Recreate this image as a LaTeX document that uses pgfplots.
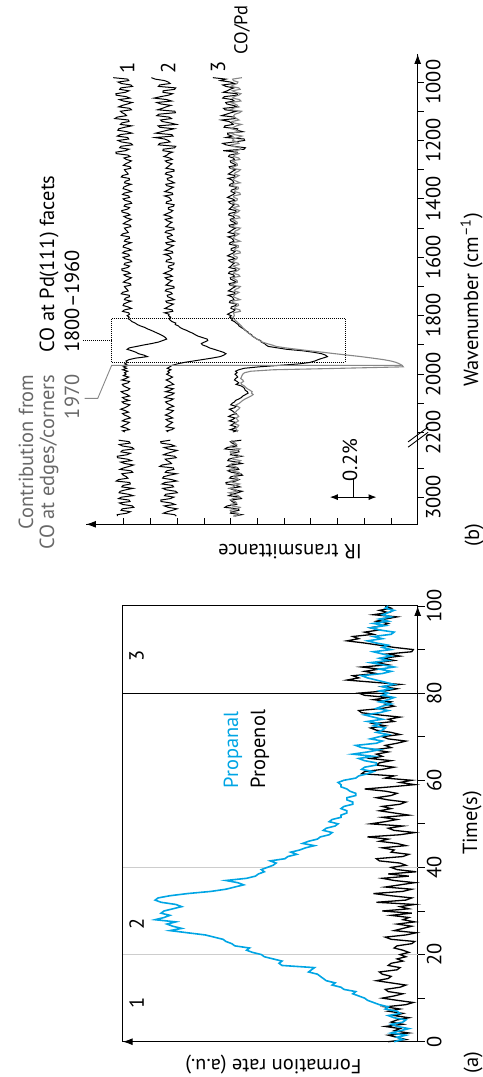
\documentclass[border=0pt]{standalone}
\usepackage{fontspec}
\setmainfont{PT Sans}
\usepackage{pgfplots}
\pgfplotsset{compat=1.18}
\usepackage{pgfplotstable}
\usetikzlibrary{arrows.meta}
\definecolor{propanal}{RGB}{0,165,228}
\definecolor{spgray}{RGB}{135,135,135}
\definecolor{vgray}{RGB}{205,205,205}
\definecolor{txtgray}{RGB}{105,105,105}

\pgfplotstableread[row sep=\\]{
t a b\\
0 0.08 0.10\\ 0.5 0.05 0.04\\ 1 0.07 0.07\\ 1.5 0.04 0.10\\ 2 0.09 0.03\\ 2.5 0.06 0.08\\ 3 0.03 0.06\\ 3.5 0.07 0.11\\ 4 0.09 0.05\\ 4.5 0.05 0.09\\
5 0.04 0.07\\ 5.5 0.08 0.03\\ 6 0.10 0.08\\ 6.5 0.06 0.05\\ 7 0.07 0.10\\ 7.5 0.11 0.06\\ 8 0.10 0.11\\ 8.5 0.13 0.04\\ 9 0.15 0.015\\ 9.5 0.17 0.07\\
10 0.18 0.12\\ 10.5 0.20 0.08\\ 11 0.22 0.05\\ 11.5 0.21 0.10\\ 12 0.25 0.11\\ 12.5 0.26 0.06\\ 13 0.29 0.04\\ 13.5 0.28 0.09\\ 14 0.31 0.14\\ 14.5 0.32 0.10\\
15 0.33 0.09\\ 15.5 0.34 0.12\\ 16 0.37 0.13\\ 16.5 0.36 0.07\\ 17 0.35 0.06\\ 17.5 0.46 0.10\\ 18 0.47 0.09\\ 18.5 0.46 0.05\\ 19 0.49 0.07\\ 19.5 0.52 0.04\\
20 0.53 0.06\\ 20.5 0.56 0.03\\ 21 0.58 0.05\\ 21.5 0.57 0.08\\ 22 0.62 0.07\\ 22.5 0.63 0.02\\ 23 0.65 0.01\\ 23.5 0.66 0.09\\ 24 0.69 0.11\\ 24.5 0.72 0.04\\
25 0.78 0.005\\ 25.5 0.84 0.08\\ 26 0.80 0.05\\ 26.5 0.83 0.02\\ 27 0.85 0.07\\ 27.5 0.82 0.01\\ 28 0.89 0.05\\ 28.5 0.86 0.03\\ 29 0.84 0.09\\ 29.5 0.87 0.02\\
30 0.86 0.12\\ 30.5 0.83 0.03\\ 31 0.80 0.06\\ 31.5 0.82 0.01\\ 32 0.87 0.14\\ 32.5 0.89 0.04\\ 33 0.88 0.02\\ 33.5 0.84 0.09\\ 34 0.78 0.15\\ 34.5 0.70 0.05\\
35 0.65 0.02\\ 35.5 0.62 0.11\\ 36 0.59 0.06\\ 36.5 0.61 0.01\\ 37 0.65 0.08\\ 37.5 0.58 0.12\\ 38 0.55 0.03\\ 38.5 0.54 0.10\\ 39 0.52 0.005\\ 39.5 0.53 0.07\\
40 0.51 0.09\\ 40.5 0.49 0.04\\ 41 0.48 0.06\\ 41.5 0.50 0.13\\ 42 0.45 0.14\\ 42.5 0.44 0.05\\ 43 0.41 0.03\\ 43.5 0.43 0.09\\ 44 0.40 0.08\\ 44.5 0.38 0.12\\
45 0.35 0.04\\ 45.5 0.39 0.07\\ 46 0.37 0.13\\ 46.5 0.34 0.10\\ 47 0.33 0.17\\ 47.5 0.30 0.06\\ 48 0.29 0.01\\ 48.5 0.32 0.08\\ 49 0.31 0.10\\ 49.5 0.28 0.05\\
50 0.27 0.16\\ 50.5 0.30 0.11\\ 51 0.29 0.07\\ 51.5 0.26 0.12\\ 52 0.26 0.03\\ 52.5 0.24 0.08\\ 53 0.24 0.13\\ 53.5 0.26 0.09\\ 54 0.25 0.12\\ 54.5 0.22 0.06\\
55 0.22 0.04\\ 55.5 0.24 0.10\\ 56 0.24 0.14\\ 56.5 0.21 0.09\\ 57 0.21 0.07\\ 57.5 0.23 0.11\\ 58 0.24 0.18\\ 58.5 0.26 0.09\\ 59 0.26 0.01\\ 59.5 0.27 0.06\\
60 0.25 0.02\\ 60.5 0.21 0.11\\ 61 0.20 0.08\\ 61.5 0.17 0.19\\ 62 0.15 0.18\\ 62.5 0.19 0.12\\ 63 0.18 0.08\\ 63.5 0.14 0.14\\ 64 0.14 0.13\\ 64.5 0.18 0.09\\
65 0.20 0.16\\ 65.5 0.15 0.12\\ 66 0.22 0.14\\ 66.5 0.17 0.10\\ 67 0.13 0.15\\ 67.5 0.19 0.09\\ 68 0.21 0.11\\ 68.5 0.14 0.07\\ 69 0.12 0.04\\ 69.5 0.16 0.10\\
70 0.13 0.12\\ 70.5 0.10 0.06\\ 71 0.14 0.09\\ 71.5 0.12 0.14\\ 72 0.11 0.16\\ 72.5 0.15 0.11\\ 73 0.13 0.15\\ 73.5 0.17 0.08\\ 74 0.12 0.10\\ 74.5 0.15 0.06\\
75 0.18 0.13\\ 75.5 0.13 0.19\\ 76 0.10 0.20\\ 76.5 0.14 0.12\\ 77 0.12 0.08\\ 77.5 0.09 0.11\\ 78 0.13 0.09\\ 78.5 0.10 0.15\\ 79 0.08 0.10\\ 79.5 0.12 0.18\\
80 0.10 0.20\\ 80.5 0.13 0.11\\ 81 0.09 0.07\\ 81.5 0.12 0.12\\ 82 0.08 0.06\\ 82.5 0.11 0.15\\ 83 0.14 0.24\\ 83.5 0.17 0.20\\ 84 0.19 0.22\\ 84.5 0.12 0.14\\
85 0.09 0.18\\ 85.5 0.13 0.13\\ 86 0.08 0.19\\ 86.5 0.12 0.10\\ 87 0.16 0.14\\ 87.5 0.10 0.08\\ 88 0.13 0.12\\ 88.5 0.09 0.06\\ 89 0.12 0.10\\ 89.5 0.15 0.02\\
90 0.09 0.015\\ 90.5 0.12 0.08\\ 91 0.10 0.13\\ 91.5 0.14 0.18\\ 92 0.17 0.24\\ 92.5 0.12 0.20\\ 93 0.15 0.22\\ 93.5 0.09 0.15\\ 94 0.08 0.18\\ 94.5 0.13 0.13\\
95 0.16 0.16\\ 95.5 0.11 0.12\\ 96 0.15 0.10\\ 96.5 0.10 0.14\\ 97 0.13 0.11\\ 97.5 0.09 0.07\\ 98 0.12 0.15\\ 98.5 0.10 0.10\\ 99 0.08 0.13\\ 99.5 0.11 0.09\\
100 0.10 0.11\\
}\tablea

\pgfplotstableread[row sep=\\]{
w s1 s2 s3 s4\\
985 11.40 9.97 7.67 6.58\\ 990 10.86 9.83 7.18 6.93\\ 995 10.82 9.48 7.39 6.90\\ 1000 11.22 9.34 7.01 6.73\\ 1005 11.10 9.27 6.86 6.76\\
1010 10.74 9.66 7.30 6.90\\ 1015 10.68 9.71 7.18 6.99\\ 1020 11.11 9.06 6.88 6.70\\ 1025 11.16 9.10 7.03 6.65\\ 1030 10.81 9.53 7.13 6.94\\
1035 10.94 9.54 7.28 6.82\\ 1040 11.30 9.18 6.76 6.62\\ 1045 11.29 9.33 6.75 6.70\\ 1050 10.92 9.62 7.24 6.87\\ 1055 10.77 9.87 7.30 6.94\\
1060 11.17 9.40 6.94 6.67\\ 1065 11.02 9.21 6.87 6.62\\ 1070 10.69 9.77 7.19 7.00\\ 1075 10.86 9.62 7.15 6.85\\ 1080 11.06 9.24 6.91 6.74\\
1085 11.20 9.42 6.73 6.74\\ 1090 10.78 9.56 7.27 6.91\\ 1095 10.72 9.74 7.21 7.02\\ 1100 11.13 9.09 6.79 6.59\\ 1105 11.07 9.07 6.99 6.67\\
1110 10.96 9.69 7.16 6.84\\ 1115 10.90 9.77 7.34 6.89\\ 1120 11.25 9.31 6.86 6.87\\ 1125 11.34 9.22 6.82 6.78\\ 1130 10.83 9.63 7.35 6.69\\
1135 10.81 9.57 7.07 6.95\\ 1140 11.08 9.27 6.97 6.89\\ 1145 11.13 9.04 6.91 6.60\\ 1150 10.71 9.72 7.22 6.78\\ 1155 10.98 9.65 7.25 6.90\\
1160 11.19 9.12 6.74 6.97\\ 1165 11.23 9.37 6.77 6.76\\ 1170 10.89 9.59 6.55 6.69\\ 1175 10.70 9.81 7.12 6.99\\ 1180 11.14 9.21 7.11 6.86\\
1185 11.25 9.16 6.95 6.58\\ 1190 10.86 9.83 7.18 6.73\\ 1195 10.82 9.48 6.50 6.90\\ 1200 11.22 9.34 6.48 6.93\\ 1205 11.10 9.27 6.86 6.76\\
1210 10.74 9.66 7.30 6.70\\ 1215 10.68 9.71 7.18 6.99\\ 1220 11.11 9.06 6.88 6.94\\ 1225 11.16 9.10 6.45 6.65\\ 1230 10.81 9.53 6.50 6.62\\
1235 10.94 9.54 7.28 6.82\\ 1240 11.30 9.18 6.76 6.87\\ 1245 11.29 9.33 6.75 6.70\\ 1250 10.85 9.38 7.05 6.85\\ 1255 10.77 9.50 7.08 6.90\\
1260 11.00 9.28 6.90 6.70\\ 1265 10.91 9.19 6.86 6.66\\ 1270 10.72 9.45 7.02 6.95\\ 1275 10.82 9.38 7.00 6.84\\ 1280 10.94 9.20 6.88 6.76\\
1285 11.02 9.29 6.79 6.75\\ 1290 10.77 9.35 7.06 6.88\\ 1295 10.74 9.43 7.03 6.97\\ 1300 10.98 9.13 6.82 6.64\\ 1305 10.94 9.12 6.92 6.70\\
1310 10.88 9.41 7.00 6.83\\ 1315 10.84 9.45 7.09 6.87\\ 1320 11.05 9.24 6.85 6.69\\ 1325 11.10 9.19 6.84 6.79\\ 1330 10.80 9.38 7.10 6.87\\
1335 10.79 9.36 6.96 6.91\\ 1340 10.95 9.22 6.91 6.78\\ 1345 10.98 9.11 6.88 6.65\\ 1350 10.73 9.43 7.03 6.93\\ 1355 10.89 9.39 7.05 6.93\\
1360 11.01 9.15 6.79 6.72\\ 1365 11.03 9.26 6.81 6.71\\ 1370 10.84 9.36 6.98 6.84\\ 1375 10.72 9.47 6.99 6.85\\ 1380 10.98 9.19 6.84 6.66\\
1385 11.05 9.17 6.90 6.64\\ 1390 10.82 9.48 7.02 6.90\\ 1395 10.79 9.31 7.12 6.88\\ 1400 11.03 9.25 6.93 6.75\\ 1405 10.96 9.22 6.85 6.77\\
1410 10.75 9.40 7.08 6.87\\ 1415 10.71 9.42 7.02 6.94\\ 1420 10.96 9.12 6.87 6.73\\ 1425 10.99 9.14 6.94 6.69\\ 1430 10.79 9.34 6.99 6.91\\
1435 10.86 9.34 7.06 6.81\\ 1440 11.08 9.17 6.81 6.67\\ 1445 11.07 9.24 6.80 6.73\\ 1450 10.85 9.38 7.05 6.85\\ 1455 10.77 9.50 7.08 6.90\\
1460 11.00 9.28 6.90 6.70\\ 1465 10.91 9.19 6.86 6.66\\ 1470 10.72 9.45 7.02 6.95\\ 1475 10.82 9.38 7.00 6.84\\ 1480 10.94 9.20 6.88 6.76\\
1485 11.02 9.29 6.79 6.75\\ 1490 10.77 9.35 7.06 6.88\\ 1495 10.74 9.43 7.03 6.97\\ 1500 10.98 9.13 6.82 6.64\\ 1505 10.94 9.12 6.92 6.70\\
1510 10.88 9.41 7.00 6.83\\ 1515 10.84 9.45 7.09 6.87\\ 1520 11.05 9.24 6.85 6.69\\ 1525 11.10 9.19 6.84 6.79\\ 1530 10.80 9.38 7.10 6.87\\
1535 10.79 9.36 6.96 6.91\\ 1540 10.95 9.22 6.91 6.78\\ 1545 10.98 9.11 6.88 6.65\\ 1550 10.73 9.43 7.03 6.93\\ 1555 10.89 9.39 7.05 6.93\\
1560 11.01 9.15 6.79 6.72\\ 1565 11.03 9.26 6.81 6.71\\ 1570 10.84 9.36 6.98 6.84\\ 1575 10.72 9.47 6.99 6.85\\ 1580 10.98 9.19 6.84 6.66\\
1585 11.05 9.17 6.90 6.64\\ 1590 10.82 9.48 7.02 6.90\\ 1595 10.79 9.31 7.12 6.88\\ 1600 11.03 9.25 6.93 6.75\\ 1605 10.96 9.22 6.85 6.77\\
1610 10.75 9.40 7.08 6.87\\ 1615 10.71 9.42 7.02 6.94\\ 1620 10.96 9.12 6.87 6.73\\ 1625 10.99 9.14 6.94 6.69\\ 1630 10.79 9.34 6.99 6.91\\
1635 10.86 9.34 7.06 6.81\\ 1640 11.08 9.17 6.81 6.67\\ 1645 11.07 9.24 6.80 6.73\\ 1650 10.85 9.38 7.05 6.85\\ 1655 10.77 9.50 7.08 6.90\\
1660 11.00 9.28 6.90 6.70\\ 1665 10.91 9.19 6.86 6.66\\ 1670 10.72 9.45 7.02 6.95\\ 1675 10.82 9.38 7.00 6.84\\ 1680 10.94 9.20 6.88 6.76\\
1685 11.02 9.29 6.79 6.75\\ 1690 10.77 9.35 7.06 6.88\\ 1695 10.74 9.43 7.03 6.97\\ 1700 10.98 9.13 6.82 6.64\\ 1705 10.94 9.12 6.92 6.70\\
1710 10.88 9.41 7.00 6.83\\ 1715 10.84 9.45 7.09 6.87\\ 1720 11.05 9.24 6.85 6.69\\ 1725 11.10 9.19 6.84 6.79\\ 1730 10.80 9.38 7.10 6.87\\
1735 10.79 9.36 6.96 6.91\\ 1740 10.95 9.22 6.91 6.78\\ 1745 10.98 9.11 6.88 6.65\\ 1750 10.73 9.43 7.03 6.93\\ 1755 10.89 9.39 7.05 6.93\\
1760 11.01 9.15 6.79 6.72\\ 1765 11.03 9.26 6.81 6.71\\ 1770 10.84 9.36 6.98 6.84\\ 1775 10.72 9.47 6.99 6.85\\ 1780 10.98 9.19 6.84 6.66\\
1785 11.05 9.17 6.90 6.64\\ 1790 10.82 9.48 7.02 6.90\\ 1795 10.79 9.31 7.12 6.88\\
1800 10.88 9.33 6.98 6.86\\ 1805 10.80 9.25 7.04 6.92\\ 1810 10.84 9.31 6.93 6.88\\ 1815 10.76 9.27 6.97 6.84\\ 1820 10.70 9.20 6.86 6.78\\
1825 10.58 9.06 6.80 6.72\\ 1830 10.50 9.08 6.72 6.66\\ 1835 10.38 8.96 6.69 6.60\\ 1840 10.22 8.90 6.61 6.56\\ 1845 10.12 8.80 6.52 6.50\\
1850 9.98 8.66 6.46 6.44\\ 1855 9.86 8.55 6.36 6.40\\ 1860 9.74 8.42 6.33 6.32\\ 1865 9.62 8.33 6.22 6.25\\ 1870 9.52 8.22 6.19 6.18\\
1875 9.44 8.05 6.10 6.10\\ 1880 9.40 7.88 6.02 6.02\\ 1885 9.55 7.86 5.88 5.92\\ 1890 9.70 7.98 5.86 5.82\\ 1895 9.95 8.10 5.74 5.66\\
1900 10.25 8.06 5.68 5.46\\ 1905 10.52 7.90 5.60 5.30\\ 1910 10.80 7.80 5.25 4.95\\ 1915 10.88 7.62 4.90 4.50\\ 1920 10.70 7.45 4.30 4.05\\
1925 10.55 7.28 3.90 3.55\\ 1930 10.45 7.18 3.60 3.10\\ 1935 10.25 7.26 3.45 2.60\\ 1940 10.12 7.40 3.38 2.12\\ 1945 10.55 7.70 3.55 1.70\\
1950 10.80 8.05 3.72 1.30\\ 1955 10.92 8.40 3.85 1.00\\ 1960 10.88 8.75 4.05 0.80\\ 1965 10.97 9.00 4.45 0.68\\ 1970 10.84 9.20 5.20 0.58\\
1975 11.02 9.28 5.95 0.54\\ 1980 10.90 9.38 6.50 2.90\\ 1985 11.05 9.24 6.70 5.40\\ 1990 10.86 9.36 6.82 6.25\\ 1995 10.98 9.30 6.76 6.48\\
2000 10.92 9.40 6.84 6.55\\ 2005 11.02 9.30 6.78 6.58\\ 2010 10.82 9.18 6.74 6.60\\ 2015 10.93 9.28 6.82 6.63\\ 2020 11.08 9.42 6.86 6.55\\
2025 10.79 9.30 6.76 6.52\\ 2030 10.85 9.22 6.70 6.62\\ 2035 11.06 9.14 6.80 6.60\\ 2040 11.02 9.36 6.62 6.50\\ 2045 10.91 9.45 6.52 6.44\\
2050 10.78 9.15 6.48 6.38\\ 2055 10.85 9.26 6.46 6.28\\ 2060 11.10 9.44 6.38 6.20\\ 2065 11.02 9.12 6.35 6.22\\ 2070 10.88 9.20 6.45 6.16\\
2075 10.79 9.38 6.55 6.24\\ 2080 11.05 9.47 6.60 6.35\\ 2085 10.98 9.15 6.70 6.46\\ 2090 10.80 9.25 6.82 6.55\\ 2095 11.07 9.44 6.86 6.62\\
2100 11.00 9.38 6.95 6.68\\ 2105 10.78 9.26 7.00 6.80\\ 2110 10.86 9.14 6.80 6.75\\ 2115 10.97 9.31 6.86 6.66\\ 2120 11.12 9.40 7.05 6.70\\
2125 10.95 9.15 6.95 6.78\\ 2130 10.83 9.22 6.88 6.82\\ 2135 11.05 9.33 6.80 6.86\\ 2140 10.98 9.45 6.98 6.74\\ 2145 10.84 9.28 7.08 6.70\\
2150 10.76 9.17 6.84 6.80\\ 2155 10.96 9.42 6.92 6.76\\ 2160 11.06 9.35 7.06 6.71\\ 2165 10.80 9.18 6.82 6.80\\ 2170 10.88 9.26 6.90 6.84\\
2175 11.00 9.36 7.00 6.70\\ 2180 11.10 9.43 6.81 6.73\\ 2185 10.90 9.12 6.86 6.82\\ 2190 10.80 9.20 7.02 6.79\\ 2194 11.05 9.40 6.78 6.74\\
2198 10.96 9.34 6.92 6.76\\
2212 nan nan nan nan\\
2226 11.20 9.26 6.60 6.94\\ 2231 10.81 9.62 7.01 6.98\\ 2236 10.77 9.61 6.95 6.83\\ 2241 11.17 9.24 6.84 6.78\\ 2246 11.05 9.09 6.78 7.00\\
2251 10.69 9.49 7.13 6.95\\ 2256 10.63 9.34 7.22 6.65\\ 2261 11.06 9.01 6.71 6.75\\ 2266 11.11 9.18 6.69 7.02\\ 2271 10.76 9.38 6.96 6.99\\
2276 10.89 9.52 7.01 6.73\\ 2281 11.25 9.10 6.59 6.67\\ 2286 11.24 9.04 6.86 6.91\\ 2291 10.87 9.45 7.07 6.92\\ 2296 10.72 9.39 7.11 6.63\\
2301 11.12 9.28 6.77 6.72\\ 2306 10.97 9.22 6.58 6.95\\ 2311 10.64 9.57 7.02 7.05\\ 2316 10.81 9.66 7.13 6.81\\ 2321 11.01 9.15 6.74 6.79\\
2326 11.15 9.13 6.70 7.04\\ 2331 10.73 9.40 7.10 6.96\\ 2336 10.67 9.45 6.98 6.70\\ 2341 11.08 9.03 6.62 6.64\\ 2346 11.02 9.30 6.56 6.87\\
2351 10.91 9.51 6.99 6.89\\ 2356 10.85 9.55 7.04 6.75\\ 2361 11.20 9.21 6.69 6.71\\ 2366 11.29 9.02 6.82 6.99\\ 2371 10.78 9.46 7.18 6.94\\
2376 10.76 9.57 7.17 6.67\\ 2381 11.03 9.18 6.80 6.83\\ 2386 11.08 9.14 6.65 6.90\\ 2391 10.66 9.54 7.05 7.02\\ 2396 10.93 9.42 6.90 6.79\\
2401 11.14 9.06 6.57 6.74\\ 2406 11.18 9.00 6.74 7.07\\ 2411 10.84 9.43 6.94 6.91\\ 2416 10.65 9.48 7.08 6.72\\ 2421 11.09 9.13 6.66 6.66\\
2426 11.20 9.26 6.60 6.94\\ 2431 10.81 9.62 7.01 6.98\\ 2436 10.77 9.61 6.95 6.83\\ 2441 11.17 9.24 6.84 6.78\\ 2446 11.05 9.09 6.78 7.00\\
2451 10.69 9.49 7.13 6.95\\ 2456 10.63 9.34 7.22 6.65\\ 2461 11.06 9.01 6.71 6.75\\ 2466 11.11 9.18 6.69 7.02\\ 2471 10.76 9.38 6.96 6.99\\
2476 10.89 9.52 7.01 6.73\\ 2481 11.25 9.10 6.59 6.67\\ 2486 11.24 9.04 6.86 6.91\\
}\tableb

\begin{document}
\begin{tikzpicture}[font=\fontsize{20.5}{24}\selectfont]
\useasboundingbox (-483bp,0bp) rectangle (0bp,1077bp);
\begin{scope}[rotate=90, transform shape]
% ---------------- panel (a)
\begin{axis}[
  at={(35.3bp,65.3bp)}, anchor=south west,
  width=435.7bp, height=295bp, scale only axis,
  xmin=0, xmax=100, ymin=0, ymax=1,
  axis x line*=bottom, axis y line*=left,
  axis line style={line width=1bp},
  xtick={0,20,40,60,80,100}, minor xtick={10,30,50,70,90},
  ytick=\empty,
  tick align=outside, major tick length=7bp, minor tick length=7bp,
  every tick/.style={line width=0.9bp, black},
  minor tick style={line width=0.9bp, black},
  tick label style={font=\fontsize{20.5}{24}\selectfont},
  xticklabel style={yshift=1.5bp},
  /pgf/number format/assume math mode=true,
  clip=false,
]
\draw[vgray, line width=1.3bp] (axis cs:20,0) -- (axis cs:20,1);
\draw[vgray, line width=1.3bp] (axis cs:40,0) -- (axis cs:40,1);
\draw[black, line width=1bp] (axis cs:80,0) -- (axis cs:80,1);
\draw[line width=1bp] (axis cs:0,1) -- (axis cs:100,1) -- (axis cs:100,0);
\draw[line width=1bp, -{Latex[length=10bp,width=7bp]}] (axis cs:0,0.9) -- (axis cs:0,1);
\draw[line width=1bp, -{Latex[length=10bp,width=7bp]}] (axis cs:96,0) -- (axis cs:100,0);
\addplot[black, line width=1.3bp] table[x=t, y=b] {\tablea};
\addplot[propanal, line width=1.6bp] table[x=t, y=a] {\tablea};
\node at (axis cs:9,0.953) {1};
\node at (axis cs:27,0.953) {2};
\node at (axis cs:88.6,0.953) {3};
\node[anchor=west, text=propanal] at (axis cs:57.4,0.626) {Propanal};
\node[anchor=west] at (axis cs:57.4,0.535) {Propenol};
\end{axis}
% ---------------- panel (b)
\begin{axis}[
  at={(552.7bp,65.3bp)}, anchor=south west,
  width=470.3bp, height=331.7bp, scale only axis,
  xmin=904, xmax=2514, x dir=reverse, ymin=0, ymax=12.42,
  axis x line*=bottom, axis y line*=left,
  axis line style={line width=1bp},
  xtick={1000,1100,1200,1300,1400,1500,1600,1700,1800,1900,2000,2100,2200,2322,2421},
  xticklabels={1000,,1200,,1400,,1600,,1800,,2000,,2200,,3000},
  ytick={1,2,3,4,5,6,7,8,9,10,11}, yticklabels={},
  xtick align=outside, ytick align=inside,
  major tick length=6bp,
  every tick/.style={line width=0.9bp, black},
  tick label style={font=\fontsize{20.5}{24}\selectfont},
  xticklabel style={yshift=1.5bp},
  unbounded coords=jump,
  clip=false,
]
\addplot[black, line width=1bp] table[x=w, y=s1] {\tableb};
\addplot[black, line width=1bp] table[x=w, y=s2] {\tableb};
\addplot[black, line width=1bp] table[x=w, y=s3] {\tableb};
\addplot[spgray, line width=1.1bp] table[x=w, y=s4] {\tableb};
\draw[spgray, line width=0.9bp] (axis cs:1970,0.6) -- (axis cs:1970,11.46) -- (axis cs:2083,11.98) -- (axis cs:2083,12.47);
\draw[densely dotted, line width=1bp] (axis cs:1810,2.72) rectangle (axis cs:1960,11.46);
\draw[densely dotted, line width=1bp] (axis cs:1886,11.46) -- (axis cs:1886,12.52);
\draw[line width=1bp, -{Latex[length=10bp,width=7bp]}] (axis cs:950,0) -- (axis cs:904,0);
\draw[line width=1bp, -{Latex[length=10bp,width=7bp]}] (axis cs:2514,11.5) -- (axis cs:2514,12.42);
\draw[line width=0.9bp] (axis cs:2250,0.36) -- (axis cs:2199,-0.39);
\draw[line width=0.9bp] (axis cs:2232,0.36) -- (axis cs:2181,-0.39);
\draw[line width=1bp, {Latex[length=8bp,width=6bp]}-{Latex[length=8bp,width=6bp]}] (axis cs:2421,1.54) -- (axis cs:2421,3.29);
\draw[line width=1bp] (axis cs:2421,2.4) -- (axis cs:2355,2.4);
\end{axis}
% ---------------- texts
\node[rotate=90] at (12bp,209.6bp) {Formation rate (a.u.)};
\node[anchor=base] at (254bp,6bp) {Time(s)};
\node[anchor=base west] at (0bp,5bp) {(a)};
\node[rotate=90] at (525bp,193bp) {IR transmittance};
\node[anchor=base] at (777bp,5bp) {Wavenumber (cm\textsuperscript{–1})};
\node[anchor=base west] at (527bp,4bp) {(b)};
\node at (1009bp,356bp) {1};
\node at (1009bp,315bp) {2};
\node at (1010bp,265bp) {3};
\node[anchor=east, inner sep=0pt, font=\fontsize{18.5}{22}\selectfont] at (1072bp,241bp) {CO/Pd};
\node[anchor=east, text=txtgray] at (706bp,457bp) {Contribution from};
\node[anchor=east, text=txtgray] at (706bp,434bp) {CO at edges/corners};
\node[anchor=east, text=txtgray] at (706bp,411bp) {1970};
\node[anchor=west] at (721bp,434bp) {CO at Pd(111) facets};
\node[anchor=west] at (721bp,411bp) {1800–1960};
\node[anchor=west] at (592bp,133bp) {0.2\%};
\end{scope}
\end{tikzpicture}
\end{document}
